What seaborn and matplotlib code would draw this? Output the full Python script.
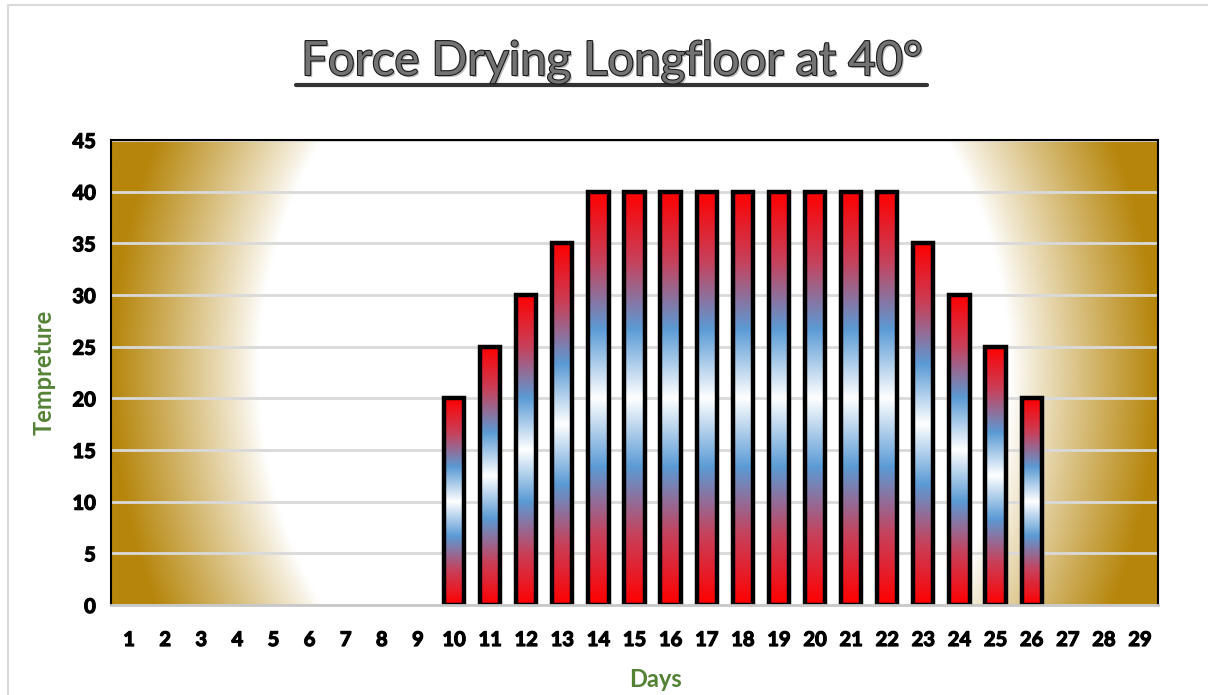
import numpy as np
import pandas as pd
import matplotlib
matplotlib.use('Agg')
import matplotlib.pyplot as plt
import matplotlib.patheffects as pe
from matplotlib.colors import LinearSegmentedColormap
from matplotlib.lines import Line2D
import seaborn as sns

# chart data
days = [str(d) for d in range(1, 30)]
temps = [0, 0, 0, 0, 0, 0, 0, 0, 0,
         20, 25, 30, 35, 40, 40, 40, 40, 40, 40, 40, 40, 40, 35, 30, 25, 20,
         0, 0, 0]
y_ticks = [0, 5, 10, 15, 20, 25, 30, 35, 40, 45]

title = 'Force Drying Longfloor at 40°'
x_label = 'Days'
y_label = 'Tempreture'

sns.set_theme(style='white')
plt.rcParams['font.family'] = ['Lato', 'DejaVu Sans']

df = pd.DataFrame({'Day': days, 'Temp': temps})

fig = plt.figure(figsize=(12.08, 6.95), dpi=100)
ax = fig.add_axes([0.0919, 0.1295, 0.8667, 0.6691])

# gold radial background
gold = np.array([182, 134, 12]) / 255.0
nx, ny = 400, 200
u = np.linspace(-1, 1, nx)
v = np.linspace(-1, 1, ny)
U, V = np.meshgrid(u, v)
r = np.sqrt(U ** 2 + 0.16 * V ** 2)
t = np.clip((r - 0.72) / (1.0 - 0.72), 0, 1) ** 0.9
bg = (1 - t[..., None]) * np.ones(3) + t[..., None] * gold
ax.imshow(bg, extent=[0, 1, 0, 1], transform=ax.transAxes, aspect='auto',
          zorder=0, interpolation='bilinear')

sns.barplot(data=df, x='Day', y='Temp', ax=ax, width=0.56, color='white',
            edgecolor='black', linewidth=3.2, zorder=3)

ax.set_yticks(y_ticks)
ax.yaxis.grid(True, color='#d9d9d9', linewidth=2, zorder=1)
ax.set_axisbelow(True)

# red -> blue -> white -> blue -> red fill in every bar
bar_cmap = LinearSegmentedColormap.from_list(
    'bar', ['#ff0000', '#c8405a', '#5b9bd5', '#ffffff', '#5b9bd5', '#c8405a', '#ff0000'])
grad = np.linspace(0, 1, 256).reshape(-1, 1)
for p in ax.patches:
    h = p.get_height()
    if h <= 0:
        p.set_visible(False)
        continue
    x0 = p.get_x()
    w = p.get_width()
    im = ax.imshow(grad, cmap=bar_cmap, extent=[x0, x0 + w, 0, h],
                   aspect='auto', zorder=2.5, interpolation='bilinear')
    im.set_clip_path(p)
    p.set_facecolor('none')
ax.set_xlim(-0.5, len(days) - 0.5)
ax.set_ylim(0, 45)

for side in ['left', 'top', 'right']:
    ax.spines[side].set_color('black')
    ax.spines[side].set_linewidth(1.5)
ax.spines['bottom'].set_color('#c8c8c8')
ax.spines['bottom'].set_linewidth(2)
for s in ax.spines.values():
    s.set_zorder(4)

ax.tick_params(axis='both', length=0, labelsize=14.5, labelcolor='black')
ax.tick_params(axis='x', pad=18)
ax.tick_params(axis='y', pad=11)
heavy = [pe.withStroke(linewidth=0.9, foreground='black')]
for lab in ax.get_xticklabels() + ax.get_yticklabels():
    lab.set_fontweight('bold')
    lab.set_path_effects(heavy)

ax.set_xlabel(x_label, fontsize=17, fontweight='bold', color='#548235', labelpad=12)
ax.set_ylabel(y_label, fontsize=17, fontweight='bold', color='#548235', labelpad=12)
ax.xaxis.set_label_coords(0.52, -0.135)

# title with outline, shadow and underline
ttl = fig.text(0.507, 0.911, title, ha='center', va='center', fontsize=34,
               color='#737373',
               path_effects=[pe.withSimplePatchShadow(offset=(1.5, -1.5), alpha=0.3),
                             pe.withStroke(linewidth=1.6, foreground='#1a1a1a')])
fig.canvas.draw()
bb = ttl.get_window_extent().transformed(fig.transFigure.inverted())
fig.add_artist(Line2D([bb.x0 - 0.004, bb.x1 + 0.003], [0.877, 0.877], color='#333333', lw=3,
                      transform=fig.transFigure))

# chart area border
fig.add_artist(Line2D([0.0066, 0.0066, 1.0], [0.0, 0.9928, 0.9928], color='#d9d9d9',
                      lw=1.5, transform=fig.transFigure))

fig.savefig('out.png', dpi=100)
